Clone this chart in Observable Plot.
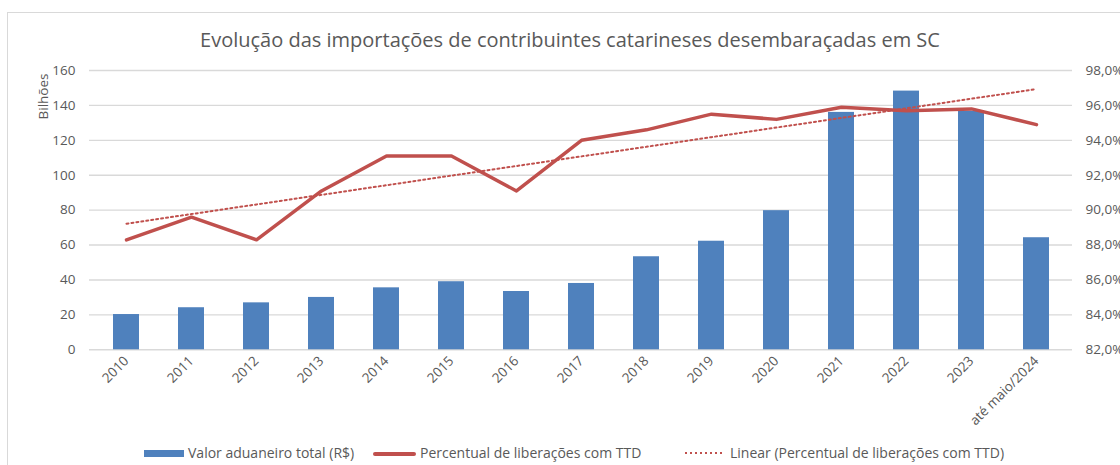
<!DOCTYPE html>
<html>
<head>
<meta charset="utf-8">
<script src="https://cdn.jsdelivr.net/npm/d3@7"></script>
<script src="https://cdn.jsdelivr.net/npm/@observablehq/plot@0.6"></script>
<style>
  body { margin: 0; background: #fff; }
  #wrap { position: relative; width: 1120px; height: 465px; overflow: hidden; font-family: "Open Sans", Lato, sans-serif; color: #595959; }
  #border { position: absolute; left: 7px; top: 12px; width: 1300px; height: 600px; border: 1px solid #D9D9D9; box-sizing: border-box; }
  #title { position: absolute; left: 0; top: 26px; width: 1140px; text-align: center; font-size: 20px; line-height: 28px; }
  #chart { position: absolute; left: 0; top: 55px; }
  .leg { position: absolute; top: 443px; height: 20px; line-height: 20px; font-size: 14px; white-space: nowrap; }
  .sw { position: absolute; }
</style>
</head>
<body>
<div id="wrap">
  <div id="border"></div>
  <div id="title">Evolução das importações de contribuintes catarineses desembaraçadas em SC</div>
  <div id="chart"></div>
  <div class="sw" style="left:144px; top:450px; width:40px; height:7px; background:#4F81BD;"></div>
  <div class="leg" style="left:188px;">Valor aduaneiro total (R$)</div>
  <div class="sw" style="left:373px; top:452px; width:43px; height:3.5px; background:#C0504D; border-radius:2px;"></div>
  <div class="leg" style="left:420px;">Percentual de liberações com TTD</div>
  <svg class="sw" style="left:684px; top:450px;" width="40" height="6"><line x1="1" y1="3" x2="39" y2="3" stroke="#C0504D" stroke-width="2" stroke-dasharray="2,3"/></svg>
  <div class="leg" style="left:730px;">Linear (Percentual de liberações com TTD)</div>
</div>
<script>
const years = ["2010","2011","2012","2013","2014","2015","2016","2017","2018","2019","2020","2021","2022","2023","até maio/2024"];
const valor = [20.2, 24.1, 26.9, 30.0, 35.5, 39.0, 33.4, 38.0, 53.3, 62.2, 79.7, 136.0, 148.2, 136.7, 64.2];
const percentual = [88.3, 89.6, 88.3, 91.1, 93.1, 93.1, 91.1, 94.0, 94.6, 95.5, 95.2, 95.9, 95.7, 95.8, 94.9];
const leftTicks = [0, 20, 40, 60, 80, 100, 120, 140, 160];
const rightTicks = [82, 84, 86, 88, 90, 92, 94, 96, 98];

// map right-axis percentages onto the left scale
const pMin = rightTicks[0], pMax = rightTicks[rightTicks.length - 1];
const lMin = leftTicks[0], lMax = leftTicks[leftTicks.length - 1];
const toLeft = p => lMin + (p - pMin) / (pMax - pMin) * (lMax - lMin);
const fromLeft = v => pMin + (v - lMin) / (lMax - lMin) * (pMax - pMin);

// least-squares linear trend of the percentage series
const n = percentual.length;
const mx = d3.mean(d3.range(n)), my = d3.mean(percentual);
const slope = d3.sum(d3.range(n), i => (i - mx) * (percentual[i] - my)) / d3.sum(d3.range(n), i => (i - mx) ** 2);
const trend = d3.range(n).map(i => ({x: years[i], y: toLeft(my + slope * (i - mx))}));

const bars = years.map((x, i) => ({x, y: valor[i]}));
const line = years.map((x, i) => ({x, y: toLeft(percentual[i])}));

const fmtPct = v => fromLeft(v).toFixed(1).replace(".", ",") + "%";

const chart = Plot.plot({
  width: 1120,
  height: 385,
  marginTop: 15,
  marginBottom: 90.7,
  marginLeft: 89,
  marginRight: 48,
  style: {fontFamily: "'Open Sans', Lato, sans-serif", fontSize: "13px", color: "#595959", background: "transparent", overflow: "visible"},
  x: {domain: years, paddingInner: 0.6, paddingOuter: 0.3},
  y: {domain: [lMin, lMax]},
  marks: [
    Plot.gridY(leftTicks, {stroke: "#D9D9D9", strokeOpacity: 1, strokeWidth: 1.4}),
    Plot.axisY(leftTicks, {anchor: "left", tickSize: 0, tickPadding: 14, label: null, fill: "#595959", fontSize: 13.5}),
    Plot.axisY(leftTicks, {anchor: "right", tickSize: 0, tickPadding: 13, label: null, tickFormat: fmtPct, fill: "#595959", fontSize: 13.5}),
    Plot.axisX({tickRotate: -45, tickSize: 0, tickPadding: 9, label: null, fill: "#595959", fontSize: 13.5}),
    Plot.barY(bars, {x: "x", y: "y", fill: "#4F81BD"}),
    Plot.line(line, {x: "x", y: "y", stroke: "#C0504D", strokeWidth: 3.5, curve: "linear"}),
    Plot.line(trend, {x: "x", y: "y", stroke: "#C0504D", strokeWidth: 2, strokeDasharray: "2,3"}),
    Plot.text(["Bilhões"], {frameAnchor: "top-left", rotate: -90, dx: -51, dy: 26, fontSize: 13.5, fill: "#595959", textAnchor: "middle"})
  ]
});
document.getElementById("chart").appendChild(chart);
</script>
</body>
</html>
